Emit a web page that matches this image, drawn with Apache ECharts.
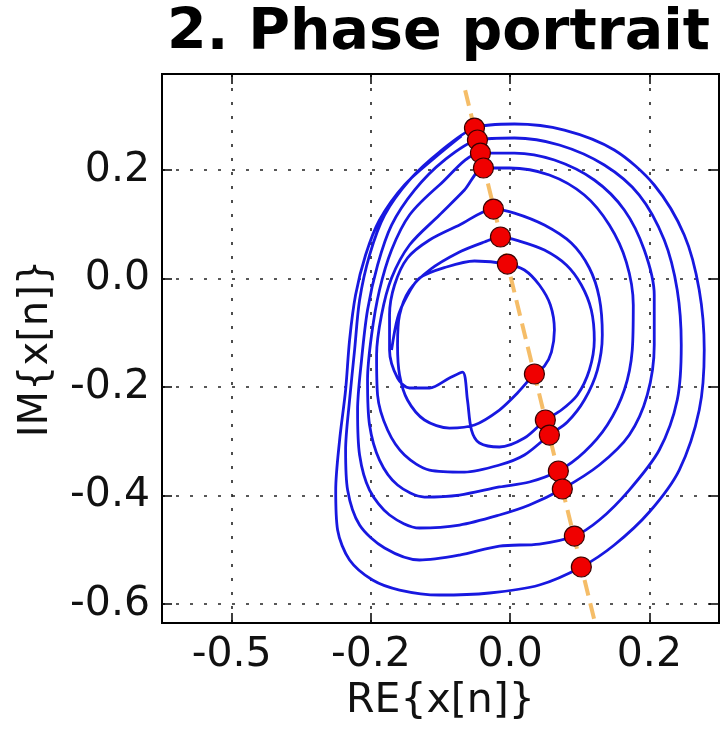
<!DOCTYPE html>
<html>
<head>
<meta charset="utf-8">
<title>2. Phase portrait</title>
<script src="https://cdn.jsdelivr.net/npm/echarts@6/dist/echarts.min.js"></script>
<style>
    html, body { margin: 0; padding: 0; background: #fff; }
    #chart1 { width: 724px; height: 731px; }
</style>
</head>
<body>
<div id="chart1"></div>
<script>

    // tick positions and the labels printed at them
    var xTickValues = [-0.4, -0.2, 0.0, 0.2];
    var xTickLabels = ['-0.5', '-0.2', '0.0', '0.2'];
    var yTickValues = [-0.6, -0.4, -0.2, 0.0, 0.2];
    var yTickLabels = ['-0.6', '-0.4', '-0.2', '0.0', '0.2'];

    var turn0 = [
        [-0.1703, -0.1318], [-0.1617, -0.0728], [-0.1488, -0.0341], [-0.1302, 0.0009],
        [-0.0914, 0.0212], [-0.0512, 0.0323], [-0.0039, 0.0267]
    ];
    var turn1 = [
        [0.0205, 0.0157], [0.0420, -0.0120], [0.0578, -0.0488], [0.0636, -0.0949],
        [0.0593, -0.1355], [0.0492, -0.1613], [0.0349, -0.1760], [0.0105, -0.2111],
        [-0.0154, -0.2424], [-0.0512, -0.2700], [-0.0871, -0.2756], [-0.1230, -0.2608],
        [-0.1474, -0.2240], [-0.1588, -0.1779], [-0.1617, -0.1226], [-0.1588, -0.0673],
        [-0.1445, -0.0212], [-0.1158, 0.0157], [-0.0727, 0.0488], [-0.0369, 0.0673],
        [-0.0139, 0.0765]
    ];
    var turn2 = [
        [0.0133, 0.0691], [0.0492, 0.0525], [0.0808, 0.0249], [0.1023, -0.0120],
        [0.1166, -0.0581], [0.1209, -0.1134], [0.1138, -0.1687], [0.0966, -0.2147],
        [0.0736, -0.2424], [0.0506, -0.2608], [0.0205, -0.2940], [-0.0154, -0.3106],
        [-0.0440, -0.3032], [-0.0555, -0.2793], [-0.0613, -0.2240], [-0.0684, -0.1724],
        [-0.0871, -0.1834], [-0.1158, -0.2018], [-0.1445, -0.2018], [-0.1617, -0.1834],
        [-0.1732, -0.1318], [-0.1732, -0.0673], [-0.1660, -0.0120], [-0.1474, 0.0378],
        [-0.1158, 0.0710], [-0.0727, 0.0986], [-0.0240, 0.1281]
    ];
    var turn3 = [
        [0.0062, 0.1207], [0.0492, 0.0986], [0.0879, 0.0654], [0.1138, 0.0194],
        [0.1281, -0.0359], [0.1324, -0.1041], [0.1253, -0.1687], [0.1066, -0.2240],
        [0.0822, -0.2645], [0.0564, -0.2885], [0.0205, -0.3253], [-0.0154, -0.3438],
        [-0.0656, -0.3567], [-0.1158, -0.3530], [-0.1517, -0.3253], [-0.1760, -0.2793],
        [-0.1904, -0.2147], [-0.1918, -0.1410], [-0.1847, -0.0673], [-0.1703, 0.0009],
        [-0.1445, 0.0618], [-0.1015, 0.1171], [-0.0656, 0.1631], [-0.0383, 0.2037]
    ];
    var turn4 = [
        [-0.0010, 0.2037], [0.0564, 0.1908], [0.1066, 0.1539], [0.1425, 0.0986],
        [0.1669, 0.0304], [0.1769, -0.0488], [0.1754, -0.1318], [0.1640, -0.2055],
        [0.1396, -0.2700], [0.1066, -0.3198], [0.0693, -0.3548], [0.0277, -0.3751],
        [-0.0154, -0.3843], [-0.0727, -0.3991], [-0.1230, -0.4028], [-0.1617, -0.3806],
        [-0.1876, -0.3346], [-0.2019, -0.2700], [-0.2048, -0.1871], [-0.1990, -0.1041],
        [-0.1876, -0.0212], [-0.1703, 0.0525], [-0.1445, 0.1171], [-0.1015, 0.1724],
        [-0.0426, 0.2313]
    ];
    var turn5 = [
        [0.0062, 0.2313], [0.0636, 0.2184], [0.1209, 0.1816], [0.1640, 0.1263],
        [0.1927, 0.0525], [0.2070, -0.0304], [0.2070, -0.1226], [0.1970, -0.2147],
        [0.1711, -0.2885], [0.1281, -0.3438], [0.0750, -0.3880], [0.0277, -0.4175],
        [-0.0154, -0.4359], [-0.0727, -0.4544], [-0.1302, -0.4599], [-0.1732, -0.4359],
        [-0.2019, -0.3899], [-0.2162, -0.3253], [-0.2191, -0.2424], [-0.2134, -0.1502],
        [-0.2048, -0.0581], [-0.1904, 0.0249], [-0.1703, 0.0986], [-0.1373, 0.1631],
        [-0.0943, 0.2184], [-0.0469, 0.2553]
    ];
    var turn6 = [
        [0.0062, 0.2590], [0.0707, 0.2461], [0.1353, 0.2092], [0.1855, 0.1539],
        [0.2214, 0.0710], [0.2400, -0.0212], [0.2458, -0.1226], [0.2400, -0.2240],
        [0.2142, -0.3161], [0.1711, -0.3899], [0.1281, -0.4452], [0.0923, -0.4747],
        [0.0420, -0.4894], [-0.0154, -0.4931], [-0.0727, -0.5097], [-0.1302, -0.5189],
        [-0.1803, -0.4968], [-0.2162, -0.4544], [-0.2334, -0.3899], [-0.2363, -0.3161],
        [-0.2306, -0.2240], [-0.2234, -0.1318], [-0.2162, -0.0396], [-0.2019, 0.0433],
        [-0.1803, 0.1171], [-0.1445, 0.1816], [-0.1015, 0.2332], [-0.0512, 0.2774]
    ];
    var turn7 = [
        [0.0062, 0.2848], [0.0779, 0.2737], [0.1496, 0.2369], [0.2070, 0.1724],
        [0.2501, 0.0802], [0.2716, -0.0212], [0.2788, -0.1318], [0.2716, -0.2424],
        [0.2429, -0.3530], [0.1999, -0.4304], [0.1496, -0.4912], [0.1023, -0.5318],
        [0.0420, -0.5650], [-0.0297, -0.5797], [-0.1015, -0.5834], [-0.1588, -0.5742],
        [-0.1976, -0.5558], [-0.2306, -0.5189], [-0.2478, -0.4636], [-0.2505, -0.3899],
        [-0.2449, -0.2977], [-0.2363, -0.2055], [-0.2306, -0.1134], [-0.2220, -0.0304],
        [-0.2076, 0.0433], [-0.1876, 0.1078], [-0.1517, 0.1724], [-0.1086, 0.2221],
        [-0.0699, 0.2627]
    ];

    // crossings of the section line (red dots)
    var sectionDots = [
        [-0.0512, 0.2774], [-0.0469, 0.2553], [-0.0426, 0.2313], [-0.0383, 0.2037],
        [-0.0240, 0.1281], [-0.0139, 0.0765], [-0.0039, 0.0267],
        [0.0349, -0.1760], [0.0506, -0.2608], [0.0564, -0.2885], [0.0693, -0.3548],
        [0.0750, -0.3880], [0.0923, -0.4747], [0.1023, -0.5318]
    ];

    // section line (orange dashes)
    var sectionLine = [[-0.0646, 0.347], [0.122, -0.635]];

    var path = turn0.concat(turn1, turn2, turn3, turn4, turn5, turn6, turn7);

    var FONT = 'DejaVu Sans';

    function pickLabel(values, labels) {
        return function (v) {
            for (var i = 0; i < values.length; i++) {
                if (Math.abs(values[i] - v) < 1e-9) return labels[i];
            }
            return '';
        };
    }

    var gridDash = {
        show: true,
        lineStyle: { color: '#222', width: 1.6, type: [3, 11] }
    };

    function tickStyle(values) {
        return {
            show: true, inside: true, length: 10, customValues: values,
            lineStyle: { color: '#000', width: 1.5 }
        };
    }

    var noLine = { show: false, onZero: false };

    var option = {
        animation: false,
        backgroundColor: '#fff',
        title: {
            text: '2. Phase portrait',
            left: 167,
            top: 6,
            padding: 0,
            textStyle: { fontFamily: FONT, fontWeight: 'bold', fontSize: 57, color: '#000' }
        },
        grid: {
            left: 162, right: 5, top: 74, bottom: 108,
            show: true, borderColor: '#000', borderWidth: 2, backgroundColor: '#fff'
        },
        xAxis: [{
            type: 'value',
            min: -0.5, max: 0.3,
            name: 'RE{x[n]}',
            nameLocation: 'middle',
            nameGap: 58,
            nameTextStyle: { fontFamily: FONT, fontSize: 41, color: '#111' },
            axisLine: noLine,
            axisTick: tickStyle(xTickValues),
            axisLabel: {
                customValues: xTickValues,
                formatter: pickLabel(xTickValues, xTickLabels),
                margin: 12, fontFamily: FONT, fontSize: 41, color: '#111'
            },
            splitLine: gridDash
        }, {
            type: 'value', position: 'top',
            min: -0.5, max: 0.3,
            axisLine: noLine,
            axisTick: tickStyle(xTickValues),
            axisLabel: { show: false },
            splitLine: { show: false }
        }],
        yAxis: [{
            type: 'value',
            min: -0.635, max: 0.377,
            name: 'IM{x[n]}',
            nameLocation: 'middle',
            nameGap: 105,
            nameTextStyle: { fontFamily: FONT, fontSize: 40, color: '#111' },
            axisLine: noLine,
            axisTick: tickStyle(yTickValues),
            axisLabel: {
                customValues: yTickValues,
                formatter: pickLabel(yTickValues, yTickLabels),
                margin: 12, fontFamily: FONT, fontSize: 41, color: '#111'
            },
            splitLine: gridDash
        }, {
            type: 'value', position: 'right',
            min: -0.635, max: 0.377,
            axisLine: noLine,
            axisTick: tickStyle(yTickValues),
            axisLabel: { show: false },
            splitLine: { show: false }
        }],
        series: [{
            name: 'section',
            type: 'line',
            data: sectionLine,
            symbol: 'none',
            z: 2,
            lineStyle: { color: '#f3b14e', width: 4, type: [16, 8], opacity: 0.85 }
        }, {
            name: 'trajectory',
            type: 'line',
            data: path,
            symbol: 'none',
            smooth: 0.3,
            z: 3,
            lineStyle: { color: '#1818e0', width: 2.8 }
        }, {
            name: 'crossings',
            type: 'scatter',
            data: sectionDots,
            symbolSize: 20,
            z: 4,
            itemStyle: { color: '#f00000', opacity: 1, borderColor: '#3a0000', borderWidth: 1.2 }
        }]
    };

    var chart = echarts.init(document.getElementById('chart1'));
    chart.setOption(option, true);

</script>
</body>
</html>
